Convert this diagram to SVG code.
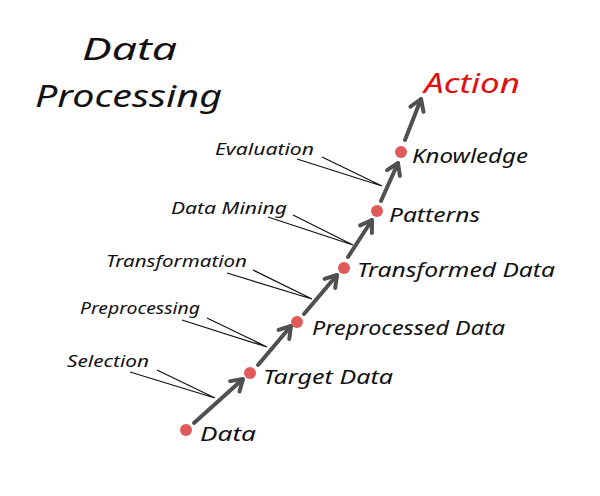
<svg xmlns="http://www.w3.org/2000/svg" width="600" height="496" viewBox="0 0 600 496">
<style>
  .hand { font-family: "Noto Sans", "DejaVu Sans", sans-serif; font-style: italic; fill: #111; }
  .node { font-size: 19px; }
  .step { font-size: 15.5px; }
  .title { font-size: 31px; }
  .action { font-size: 27px; fill: #e01010; }
  .dot { fill: #e05a5a; }
  .arrow { stroke: #505050; stroke-width: 4; stroke-linecap: round; fill: none; marker-end: url(#chev); }
  .call { stroke: #111; stroke-width: 1.2; fill: none; }
</style>
<defs>
  <marker id="chev" markerUnits="userSpaceOnUse" viewBox="-14 -10 16 20" refX="0" refY="0" markerWidth="16" markerHeight="20" orient="auto">
    <path d="M-11,-7 L0,0 L-11,7" fill="none" stroke="#505050" stroke-width="4" stroke-linecap="round" stroke-linejoin="round"/>
  </marker>
</defs>
<rect width="600" height="496" fill="#ffffff"/>

<g id="title">
  <text class="hand title" x="82" y="60" textLength="95" lengthAdjust="spacingAndGlyphs">Data</text>
  <text class="hand title" x="35" y="107" textLength="187" lengthAdjust="spacingAndGlyphs">Processing</text>
</g>

<g id="connectors">
  <line class="arrow" x1="194" y1="423" x2="243" y2="379"/>
  <line class="arrow" x1="258" y1="365" x2="291" y2="326"/>
  <line class="arrow" x1="304" y1="314" x2="337" y2="275"/>
  <line class="arrow" x1="348" y1="257" x2="372" y2="220"/>
  <line class="arrow" x1="381" y1="201" x2="398" y2="163"/>
  <line class="arrow" x1="405" y1="140" x2="421" y2="99"/>
  <polyline class="call" points="130,372 215,398 157,370"/>
  <polyline class="call" points="182,320 267,347 207,318"/>
  <polyline class="call" points="227,273 312,299 253,270"/>
  <polyline class="call" points="268,217 353,245 293,215"/>
  <polyline class="call" points="297,159 382,186 322,157"/>
</g>

<g id="node-data">
  <circle class="dot" cx="186" cy="430" r="6"/>
  <text class="hand node" x="200" y="441" textLength="56" lengthAdjust="spacingAndGlyphs">Data</text>
</g>
<g id="node-target">
  <circle class="dot" cx="250" cy="373" r="6"/>
  <text class="hand node" x="263" y="384" textLength="130" lengthAdjust="spacingAndGlyphs">Target Data</text>
</g>
<g id="node-preprocessed">
  <circle class="dot" cx="297" cy="322" r="6"/>
  <text class="hand node" x="312" y="335" textLength="193" lengthAdjust="spacingAndGlyphs">Preprocessed Data</text>
</g>
<g id="node-transformed">
  <circle class="dot" cx="344" cy="268" r="6"/>
  <text class="hand node" x="357" y="277" textLength="198" lengthAdjust="spacingAndGlyphs">Transformed Data</text>
</g>
<g id="node-patterns">
  <circle class="dot" cx="377" cy="211" r="6"/>
  <text class="hand node" x="389" y="222" textLength="91" lengthAdjust="spacingAndGlyphs">Patterns</text>
</g>
<g id="node-knowledge">
  <circle class="dot" cx="401" cy="152" r="6"/>
  <text class="hand node" x="412" y="163" textLength="116" lengthAdjust="spacingAndGlyphs">Knowledge</text>
</g>
<g id="node-action">
  <text class="hand action" x="424" y="93" textLength="96" lengthAdjust="spacingAndGlyphs">Action</text>
</g>

<g id="step-selection">
  <text class="hand step" x="67" y="367" textLength="82" lengthAdjust="spacingAndGlyphs">Selection</text>
</g>
<g id="step-preprocessing">
  <text class="hand step" x="80" y="314" textLength="120" lengthAdjust="spacingAndGlyphs">Preprocessing</text>
</g>
<g id="step-transformation">
  <text class="hand step" x="106" y="267" textLength="141" lengthAdjust="spacingAndGlyphs">Transformation</text>
</g>
<g id="step-datamining">
  <text class="hand step" x="171" y="214" textLength="116" lengthAdjust="spacingAndGlyphs">Data Mining</text>
</g>
<g id="step-evaluation">
  <text class="hand step" x="215" y="155" textLength="99" lengthAdjust="spacingAndGlyphs">Evaluation</text>
</g>
</svg>
